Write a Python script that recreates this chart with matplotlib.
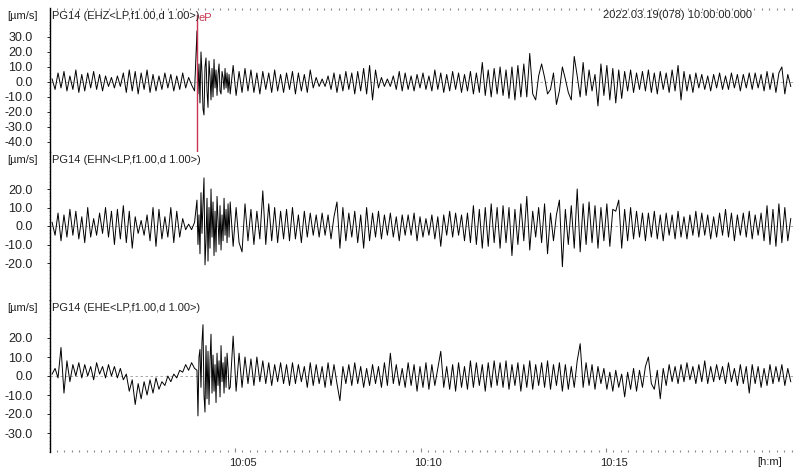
import numpy as np
import matplotlib
matplotlib.use("Agg")
import matplotlib.pyplot as plt
from matplotlib.transforms import ScaledTranslation

##Chart values

# times in minutes after 10:00:00
trace_start = 0.07
pre_end = 3.91
pick_time = 3.975
onset_end = 4.84
post_start = 4.87
trace_end = 19.98
pick_name = "eP"

header = "2022.03.19(078) 10:00:00.000"
units = "[µm/s]"
channels = ["PG14 (EHZ<LP,f1.00,d 1.00>)",
            "PG14 (EHN<LP,f1.00,d 1.00>)",
            "PG14 (EHE<LP,f1.00,d 1.00>)"]

x_ticks = [5, 10, 15]
x_tick_labels = ["10:05", "10:10", "10:15"]
x_unit = "[h:m]"

y_ticks_ehz = [30, 20, 10, 0, -10, -20, -30, -40]
y_ticks_ehn = [20, 10, 0, -10, -20]
y_ticks_ehe = [20, 10, 0, -10, -20, -30]

# each trace: before the pick, the dense onset, and the rest
ehz_pre = [2, -5, 6, -4, 7, -6, 4, -5, 8, -7,
           5, -6, 6, -4, 7, -5, 5, -6, 4, -3,
           3, -4, 4, -3, 6, -7, 8, -6, 7, -8,
           6, -5, 8, -7, 5, -6, 4, -5, 6, -4,
           5, -6, 4, -5, 6, -4, 3, -2, -6]
ehz_onset = [34, -8, 12, -14, 20, 6, -18, -22, 10, 16, -6,
             -17, 14, 4, -12, 9, -10, 15, -4, 8, -9, 5,
             12, -6, -8, 7, 3, -5, 9, -4, 6, -7, 5]
ehz_post = [-8, 11, -9, 7, -7, 9, -6, 8, -7, 6,
            -8, 7, -5, 6, -7, 8, -6, 5, -7, 6,
            -5, 7, -8, 6, -6, 5, -7, 8, -4, 3,
            -3, 2, -3, 4, -5, 6, -7, 5, -6, 7,
            -5, 6, -8, 7, -6, 9, -8, 11, -12, 8,
            -4, 3, -3, 2, -3, 4, -5, 7, -6, 6,
            -5, 4, -6, 5, -4, 6, -5, 4, -6, 8,
            -5, 6, -7, 5, -6, 7, -5, 6, -7, 5,
            -6, 7, -8, 6, -7, 13, -9, 8, -10, 9,
            -8, 10, -9, 8, -11, 10, -12, 11, -10, 12,
            -10, 19, -8, -12, 4, 12, 3, -8, -5, 6,
            -15, -6, 10, 2, -7, -12, 17, 4, -10, 13,
            -9, 8, -6, 5, -16, 12, -9, 11, -12, 9,
            -14, 8, -11, 7, -6, 8, -7, 6, -5, 7,
            -6, 8, -7, 6, -8, 7, -5, 6, -7, 8,
            -6, 11, -12, 7, -6, 5, -7, 6, -4, 5,
            -5, 4, -6, 5, -4, 6, -5, 4, -5, 6,
            -4, 5, -6, 5, -4, 6, -5, 6, -4, 5,
            -6, 7, -5, 6, -7, 6, 10, -8, 5, -3]

ehn_pre = [2, -5, 7, -8, 6, -6, 9, -5, 8, -7,
           5, -9, 10, -6, 4, -5, 7, -4, 10, -6,
           8, -10, 9, -7, 11, -9, 8, -12, 5, -4,
           3, -5, 6, -8, 10, -11, 9, -7, 5, -6,
           10, -9, 8, -6, 4, -2, 1, -2, 2]
ehn_onset = [14, -10, 6, -15, 18, -4, 12, 26, -21, -8, 15,
             -19, 10, -12, 20, -6, 13, -16, 8, -14, 16, 3,
             -10, 11, -13, 6, -8, 15, -5, 9, -9, 12, -6]
ehn_post = [13, -11, 10, -9, -14, 12, -8, 9, -10, 8,
            -7, 19, -10, 12, -8, 10, -9, 8, -7, 9,
            -8, 10, -7, 6, -9, 8, -6, 7, -5, 6,
            -6, 7, -5, 6, -7, 5, 13, -12, 10, -8,
            7, -6, 8, -9, 6, -12, 10, -8, 7, -6,
            8, -7, 6, -5, 7, -6, 5, -8, 6, -5,
            6, -5, 7, -8, 5, -6, 4, -5, 6, -7,
            5, -11, 6, -5, 8, -6, 7, -5, 6, -8,
            7, -9, 11, -10, 9, -12, 10, -11, 12, -9,
            10, -12, 11, -9, 10, -16, 9, -10, 12, -8,
            16, -13, 8, -6, 10, -9, 12, -15, 7, -8,
            6, 14, -22, 9, -10, 11, -12, 20, -14, 12,
            -10, 13, -9, 11, -12, 10, -8, 12, -11, 9,
            8, 14, -12, 9, -8, 10, -7, 8, -6, 7,
            -8, 7, -6, 8, -7, 6, -8, 7, -5, 6,
            -7, 8, -6, 5, -7, 6, -5, 8, -6, 7,
            -5, 6, -7, 5, -6, 7, -5, 9, -6, 7,
            -8, 6, -5, 7, -6, 8, -7, 6, -5, 7,
            -8, 11, -10, 9, -11, 12, -9, 10, -8, 4]

ehe_pre = [1, 4, -1, 15, -9, 8, -3, 6, 0, 7,
           -1, 6, 0, 5, -2, 7, 1, 5, -1, 6,
           0, 5, -1, 4, -2, 1, -8, -2, -15, -4,
           -12, -3, -10, -2, -9, -1, -7, -3, -5, 0,
           -3, 1, -1, 3, 2, 6, 3, 7, 4]
ehe_onset = [3, -21, 10, 14, -6, 18, 27, -10, -19, 16, -12,
             13, -15, 8, 22, -9, 11, -8, 6, -14, 12, -5,
             8, -11, 16, -3, 7, -9, 10, -6, 12, 4, -7]
ehe_post = [-6, 21, -8, 12, -6, 10, -4, 9, -5, 10,
            -3, 8, -4, 7, -5, 6, -3, 7, -4, 6,
            -5, 7, -4, 6, -3, 5, -6, 7, -5, 6,
            -4, 5, -6, 7, -5, 6, -4, -13, 5, -4,
            6, -5, 7, -4, 5, -6, 4, -5, 6, -4,
            5, -6, 7, -5, 12, -4, 6, -5, 4, -6,
            7, -5, 6, -8, 5, -6, 7, -7, 6, -5,
            4, 13, -6, 5, -7, 6, -8, 7, -6, 5,
            -7, 8, -6, 7, -5, 6, -8, 7, -6, 8,
            -5, 7, -6, 8, -7, 6, -5, 7, -8, 6,
            -6, 8, -7, 6, -5, 7, -6, 8, -7, 6,
            -5, 7, -8, 6, -7, 5, -6, 8, 17, -6,
            7, -5, 6, -7, 5, -4, 4, -7, 2, -8,
            3, -6, 1, -11, 2, -7, 4, -8, 3, -6,
            5, 10, -4, -7, 3, -12, 4, -5, 6, -3,
            5, -4, 6, -3, 7, -2, 5, -4, 6, -3,
            8, -4, 5, -3, 6, -2, 5, -4, 7, -3,
            4, -5, 6, -4, 5, -9, 6, -4, 5, -6,
            4, -5, 6, -4, 5, -3, 6, -5, 4, -3]

##Layout (pixels of an 800x472 image)

W, H = 800, 472
left_px, right_px = 49.5, 795
px_per_min = 37.1
# (top px, bottom px, ymax, ymin) for each panel
panels = [(8, 152, 49.3, -46.7),
          (152, 300, 32.8, -30.2),
          (300, 452, 38.6, -38.6)]
traces = [(ehz_pre, ehz_onset, ehz_post),
          (ehn_pre, ehn_onset, ehn_post),
          (ehe_pre, ehe_onset, ehe_post)]
yticks = [y_ticks_ehz, y_ticks_ehn, y_ticks_ehe]

plt.rcParams['font.family'] = ['Liberation Sans', 'DejaVu Sans']
fig = plt.figure(figsize=(8, 4.72), dpi=100)

axes = []
for k, (top, bot, ymax, ymin) in enumerate(panels):
    ax = fig.add_axes([left_px / W, 1 - bot / H, (right_px - left_px) / W, (bot - top) / H])
    pre, onset, post = traces[k]
    t = np.concatenate([np.linspace(trace_start, pre_end, len(pre)),
                        np.linspace(pick_time, onset_end, len(onset)),
                        np.linspace(post_start, trace_end, len(post))])
    values = np.array(pre + onset + post, dtype=float)
    ax.axhline(0, color='#999999', lw=0.6, ls=(0, (3, 3)), zorder=1)
    ax.plot(t, values, color='black', lw=0.7, zorder=2)
    ax.set_xlim(0, (right_px - left_px) / px_per_min)
    ax.set_ylim(ymin, ymax)
    for s in ['top', 'right', 'bottom']:
        ax.spines[s].set_visible(False)
    ax.spines['left'].set_linewidth(1.0)
    ax.set_yticks(yticks[k])
    ax.set_yticklabels(["%.1f" % v for v in yticks[k]])
    ax.set_yticks(np.arange(-40, 42, 2), minor=True)
    ax.tick_params(axis='y', which='major', length=2, width=0.6, pad=10, labelsize=9, labelcolor='#222222')
    ax.tick_params(axis='y', which='minor', length=1, width=0.5, color='#777777')
    ax.set_xticks(np.arange(0, 20.1, 0.2), minor=True)
    ax.set_xticks([])
    ax.tick_params(axis='x', which='both', bottom=False, top=False, labelbottom=False)
    ax.patch.set_alpha(0)
    fig.text(22 / W, 1 - (top + 8) / H, units, fontsize=8, ha='center', va='center', color='#222222')
    fig.text(52 / W, 1 - (top + 8) / H, channels[k], fontsize=8, ha='left', va='center', color='#222222')
    axes.append(ax)

ax1, ax2, ax3 = axes

## dotted time ticks on top and bottom
ax1.tick_params(axis='x', which='minor', top=True, direction='in', length=1.2, width=0.8, color='#888888')
ax3.set_xticks(x_ticks)
ax3.set_xticklabels(x_tick_labels)
ax3.set_xticks(np.arange(0, 20.1, 0.2), minor=True)
ax3.tick_params(axis='x', which='both', bottom=True, labelbottom=True, direction='in', length=1.2, width=0.8,
                color='#888888', labelsize=8, labelcolor='#222222', pad=4)
ax3.tick_params(axis='x', which='major', length=3)
for lab in ax3.get_xticklabels():
    lab.set_transform(lab.get_transform() + ScaledTranslation(0.075, 0, fig.dpi_scale_trans))

## phase pick
ax1.axvline(pick_time, ymin=0, ymax=(152 - 15) / 144.0, color='#c8374f', lw=1.0, zorder=3)
ax1.text(pick_time + 0.05, 49.3 - (18 - 8) / 1.5, pick_name, color='#c8374f', fontsize=8, ha='left', va='center')

fig.text(752 / W, 1 - 15 / H, header, fontsize=8, ha='right', va='center', color='#222222')
fig.text(770 / W, 1 - 462 / H, x_unit, fontsize=8, ha='center', va='center', color='#222222')

fig.savefig("out.png", dpi=100)
